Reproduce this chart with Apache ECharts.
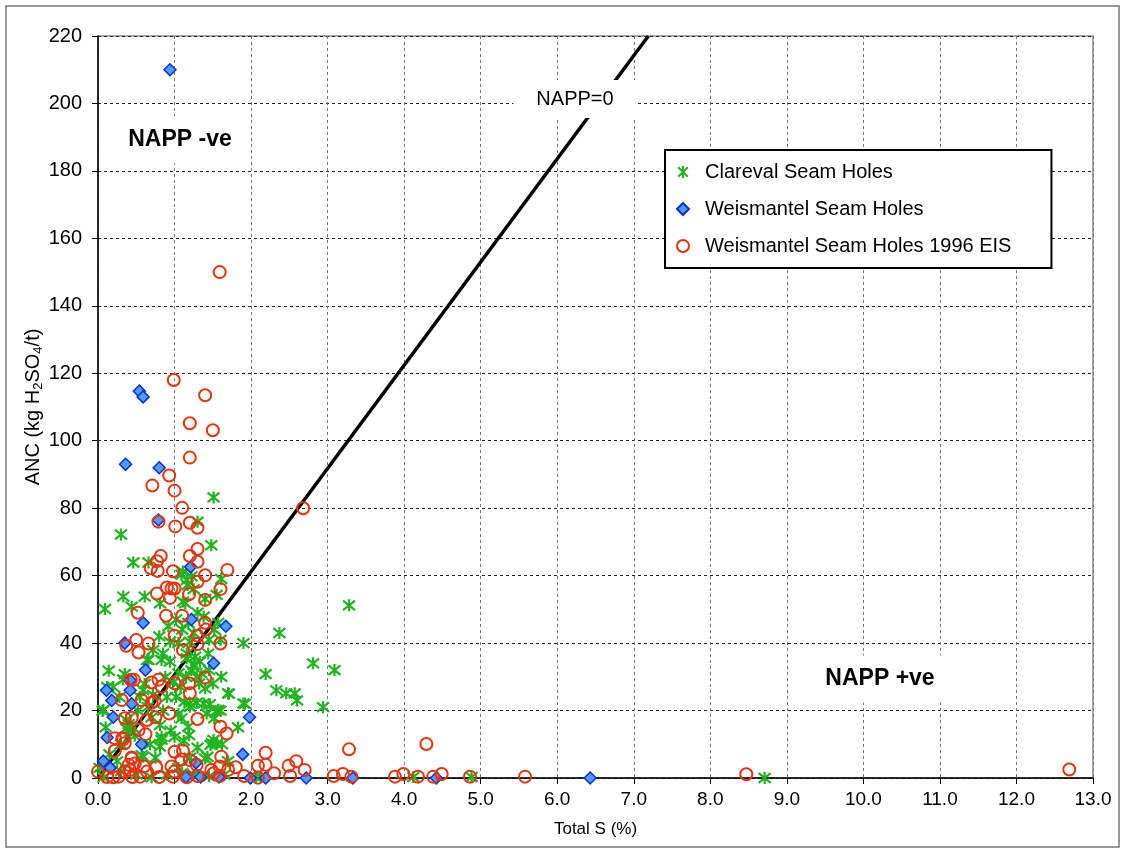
<!DOCTYPE html>
<html>
<head>
<meta charset="utf-8">
<script src="https://cdn.jsdelivr.net/npm/echarts@6/dist/echarts.min.js"></script>
<style>
  html, body { margin: 0; padding: 0; background: #fff; }
  #chart { width: 1123px; height: 852px; }
</style>
</head>
<body>
<div id="chart"></div>
<script>
// Total S (%) vs ANC (kg H2SO4/t)
const xTicks = { min: 0, max: 13, step: 1 };
const yTicks = { min: 0, max: 220, step: 20 };

// NAPP = 0 reference line (ANC = 30.6 x Total S)
const nappLine = [[0, 0], [7.19, 220]];

const clareval = [
  [1.51,83.2],[1.30,76],[0.30,72.2],[1.48,69],[3.28,51.2],[2.37,43],[1.90,40],[2.81,34],[3.09,32],[2.19,30.8],
  [2.33,26],[2.46,25.1],[2.57,25.1],[2.60,23],[2.94,21],[1.71,25],[1.92,22],[1.83,15],[8.71,0],[4.12,0.3],
  [4.88,0.3],[2.06,0.2],[2.13,0.3],
  [0.46,63.9],[0.66,63.9],[1.11,61.2],[1.16,58.7],[1.61,59],[1.17,57.2],[0.33,53.8],[0.61,53.8],[0.09,50.1],
  [0.44,50.8],[0.81,51.8],[1.11,52.3],[1.40,53.1],[1.14,51.8],[1.55,54.3],[1.38,47.8],[0.94,40.4],[1.20,40.4],
  [1.09,60.3],[1.22,59.8],[1.25,56],[1.57,46],
  [0.85,36.9],[0.66,35],[0.83,35],[0.94,34.5],[1.16,36.9],[1.27,36],[1.25,33.5],[1.33,34.5],[1.44,36.9],
  [0.14,31.8],[0.35,30.8],[0.33,29.2],[0.61,27.9],[0.59,26.1],[0.72,24.6],[0.98,28.3],[1.29,30],[1.40,26.6],
  [1.13,22.6],[1.20,21.1],[1.29,22.3],[1.38,22.1],[1.46,21.9],[1.57,20.2],[1.70,25.1],[1.90,22.1],[0.07,20.2],
  [0.10,15],[0.37,14.7],[0.42,13.7],[0.81,15.7],[0.83,12.2],[0.81,9.3],[1.00,12.2],[1.09,17.7],[1.18,15.2],
  [1.19,12.7],[1.42,19.1],[1.52,17.7],[1.54,19.7],[1.49,10.3],[1.55,10.1],[1.43,6.3],[0.59,6.3],[0.02,3],
  [0.07,0.2],[0.70,0.2],[0.64,35],[1.16,35.5],[1.20,22.1],[0.06,19.9],[0.37,17.2],[0.83,11.3],[0.57,6.8],
  [1.40,5.8],[1.61,30],[1.51,11.3],[1.47,9.8],
  [0.40,16],[0.45,15],[0.48,12.5],[0.30,10],[0.52,20],[0.55,24],[0.65,21],[0.70,18],[0.85,20],[0.90,24],
  [0.88,30],[1.05,31],[1.02,24],[1.08,27],[1.15,30],[1.22,32],[1.32,28],[1.35,31],[1.45,32],[1.50,28],
  [1.05,40],[1.10,44],[1.18,46],[1.25,43],[1.30,49],[1.02,47],[0.92,45],[0.80,42],[0.72,38],[1.45,41],
  [1.52,44],[1.60,41],[0.25,5],[0.30,2],[0.50,1],[0.90,1],[1.10,1.5],[1.25,1],[1.45,0.5],[1.65,1],
  [0.15,7],[0.28,24],[0.20,27],[0.12,27],[1.60,20],[1.62,10],[1.70,5],[1.30,9],[1.20,6],[1.05,3],
  [0.95,14],[1.05,19],[1.12,11],[0.68,10],[0.75,6]
];

const weismantel = [
  [0.94,210],[0.54,114.7],[0.59,113],[0.36,93],[0.80,92],[0.79,76.5],[1.21,62.6],[0.59,46],[1.22,47],[1.67,45],
  [0.35,40],[1.51,34],[0.62,32],[0.42,29],[0.11,26],[0.42,26],[0.18,23],[0.44,22],[0.20,18],[1.98,18],
  [0.12,12],[0.57,10],[1.89,7],[0.07,5],[0.16,3],[1.28,4.5],[1.15,0.3],[1.34,0.3],[1.58,0.3],[1.99,0],
  [2.19,0],[2.72,0],[3.33,0],[4.42,0],[6.43,0]
];

const weismantelEis = [
  [1.59,150],[0.99,118],[1.40,113.5],[1.20,105.2],[1.50,103.1],[1.20,95],[0.93,89.7],[0.71,86.7],[1.00,85.2],
  [1.10,80.1],[2.68,80],[1.20,75.7],[1.30,74.2],[1.01,74.6],[0.79,76.0],
  [0.82,65.8],[0.77,64.3],[0.69,62.2],[0.78,61.4],[1.20,65.8],[1.30,67.9],[1.30,64.1],[0.98,61.3],[1.40,60.1],
  [1.30,58.2],[1.69,61.7],[0.90,56.5],[0.96,56.2],[1.00,56.2],[0.77,54.7],[0.94,53.4],[1.19,54.5],[1.40,52.8],
  [1.60,56.0],
  [0.52,49.0],[0.89,48.1],[1.10,48.1],[1.40,46.0],[1.41,44.0],[1.00,42.2],[1.30,42.2],[1.60,39.9],[0.50,40.9],
  [0.66,39.9],[0.37,39.2],[0.53,37.2],[1.30,39.7],[1.11,37.9],
  [1.40,29.7],[0.43,29.1],[0.47,29.1],[0.70,28.3],[0.79,29.1],[0.83,27.1],[1.00,28.1],[1.19,28.1],[1.20,25.1],
  [0.31,23.1],[0.57,23.1],[0.70,22.3],[0.74,22.9],[0.93,19.1],[0.35,17.7],[0.44,17.9],[0.64,17.2],[0.75,18.0],
  [1.30,17.5],[0.53,14.2],[0.62,13.0],[0.22,11.8],[0.32,11.8],[0.35,10.3],[0.22,8.1],[1.60,15.2],[1.68,13.2],
  [1.00,7.8],[1.11,8.1],[0.44,6.1],[0.48,4.3],[0.40,3.9],[0.42,2.4],[0.35,1.9],[0.00,1.9],[0.27,0.4],
  [0.60,3.4],[0.76,3.2],[0.96,3.4],[1.00,1.9],[0.98,0.4],[1.09,5.5],[1.20,5.3],[1.29,3.9],[1.48,2.4],
  [1.61,6.3],[1.59,3.4],[1.70,2.4],[1.80,3.2],[2.09,3.6],[2.19,7.5],[2.19,3.9],[2.30,1.4],[2.49,3.6],
  [2.59,5.0],[2.70,2.4],[2.51,0.6],[2.09,0.1],[1.91,0.6],[1.51,1.4],[1.59,0.6],[3.28,8.5],[3.08,0.6],
  [3.20,1.2],[3.31,0.4],[4.29,10.1],[3.88,0.4],[3.99,1.2],[4.18,0.4],[4.38,0.4],[4.49,1.2],[4.86,0.4],
  [5.58,0.4],[8.47,1.1],[12.69,2.5],[0.64,1.9],[0.44,5.8],[0.33,11.5],[0.20,0.2],[0.45,0.3],[0.55,0.4],
  [0.80,0.3],[1.16,0.2],[1.30,0.6],[0.12,0.3]
];

const seriesNames = ['Clareval Seam Holes', 'Weismantel Seam Holes', 'Weismantel Seam Holes 1996 EIS'];

const FONT = 'Liberation Sans, Arial, sans-serif';
const starPath = 'path://M1,1L9,9M9,1L1,9M5,0L5,10';

const chart = echarts.init(document.getElementById('chart'), null, { renderer: 'canvas' });

chart.setOption({
  animation: false,
  backgroundColor: '#fff',
  textStyle: { fontFamily: FONT },
  grid: {
    left: 98, right: 30, top: 36, bottom: 74,
    show: true, borderColor: '#8c8c8c', borderWidth: 1.5, backgroundColor: 'transparent'
  },
  xAxis: {
    type: 'value',
    min: xTicks.min, max: xTicks.max, interval: xTicks.step,
    name: 'Total S (%)',
    nameLocation: 'middle', nameGap: 43,
    nameTextStyle: { fontSize: 17, color: '#000', fontFamily: FONT },
    axisLine: { show: true, onZero: false, lineStyle: { color: '#000', width: 1.5 } },
    axisTick: { show: true, length: 6, lineStyle: { color: '#000', width: 1 } },
    axisLabel: { fontSize: 19, color: '#000', margin: 12, fontFamily: FONT,
      formatter: v => v.toFixed(1) },
    splitLine: { show: true, lineStyle: { color: '#777', width: 1, type: [3, 3] } }
  },
  yAxis: {
    type: 'value',
    min: yTicks.min, max: yTicks.max, interval: yTicks.step,
    name: '{a|ANC (kg H}{s|2}{a|SO}{s|4}{a|/t)}',
    nameLocation: 'middle', nameGap: 53, nameRotate: 90,
    nameMoveOverlap: false,
    nameTextStyle: {
      color: '#000', fontFamily: FONT,
      rich: {
        a: { fontSize: 20, lineHeight: 24, color: '#000', fontFamily: FONT },
        s: { fontSize: 13, lineHeight: 12, verticalAlign: 'bottom', color: '#000', fontFamily: FONT }
      }
    },
    axisLine: { show: true, onZero: false, lineStyle: { color: '#000', width: 1.5 } },
    axisTick: { show: true, length: 6, lineStyle: { color: '#000', width: 1 } },
    axisLabel: { fontSize: 20, color: '#000', margin: 16, fontFamily: FONT },
    splitLine: { show: true, lineStyle: { color: '#222', width: 1, type: [3, 3] } }
  },
  legend: {
    orient: 'vertical',
    left: 665, top: 150,
    padding: [11, 40, 11, 11],
    itemGap: 15,
    itemWidth: 12, itemHeight: 12,
    backgroundColor: '#fff',
    borderColor: '#000', borderWidth: 2, borderRadius: 0,
    textStyle: { fontSize: 20, color: '#000', fontFamily: FONT, padding: [0, 0, 0, 11], lineHeight: 22 },
    data: seriesNames
  },
  series: [
    {
      name: 'NAPP=0',
      type: 'line',
      data: nappLine,
      symbol: 'none',
      silent: true,
      z: 2,
      lineStyle: { color: '#000', width: 3.5 }
    },
    {
      name: seriesNames[0],
      type: 'scatter',
      data: clareval,
      symbol: starPath,
      symbolSize: 12,
      z: 3,
      itemStyle: { color: '#1fb51f', borderColor: '#1fb51f', borderWidth: 2.2, opacity: 1 }
    },
    {
      name: seriesNames[1],
      type: 'scatter',
      data: weismantel,
      symbol: 'diamond',
      symbolSize: 12,
      z: 4,
      itemStyle: { color: '#4f9bff', borderColor: '#0b2fd6', borderWidth: 1.5, opacity: 1 }
    },
    {
      name: seriesNames[2],
      type: 'scatter',
      data: weismantelEis,
      symbol: 'circle',
      symbolSize: 12,
      z: 5,
      itemStyle: { color: 'rgba(255,255,255,0)', borderColor: '#e8330f', borderWidth: 2, opacity: 1 }
    }
  ],
  graphic: [
    {
      type: 'rect', z: 0, silent: true,
      shape: { x: 6, y: 6, width: 1113, height: 841 },
      style: { fill: 'none', stroke: '#777', lineWidth: 1.5 }
    },
    {
      type: 'text', z: 10, silent: true,
      x: 575, y: 99,
      style: {
        text: 'NAPP=0', font: '20px ' + FONT, fill: '#000',
        align: 'center', verticalAlign: 'middle',
        backgroundColor: '#fff', padding: [9, 23, 9, 23]
      }
    },
    {
      type: 'text', z: 1, silent: true,
      x: 180, y: 140,
      style: {
        text: 'NAPP -ve', font: 'bold 23px ' + FONT, fill: '#000',
        align: 'center', verticalAlign: 'middle',
        backgroundColor: '#fff', padding: [12, 12, 12, 12]
      }
    },
    {
      type: 'text', z: 1, silent: true,
      x: 880, y: 679,
      style: {
        text: 'NAPP +ve', font: 'bold 23px ' + FONT, fill: '#000',
        align: 'center', verticalAlign: 'middle',
        backgroundColor: '#fff', padding: [12, 14, 12, 14]
      }
    }
  ]
});
</script>
</body>
</html>
